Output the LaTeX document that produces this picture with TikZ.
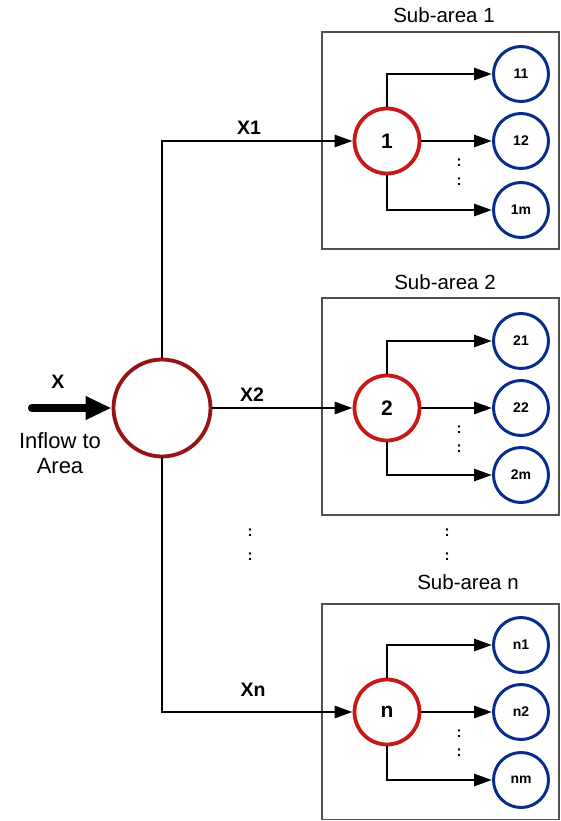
\documentclass[tikz,border=0pt]{standalone}
\usepackage{fontspec}
\setmainfont{Liberation Sans}
\usetikzlibrary{arrows.meta}
\definecolor{boxgray}{RGB}{80,80,80}
\definecolor{bigred}{RGB}{150,20,20}
\definecolor{subred}{RGB}{200,25,25}
\definecolor{leafblue}{RGB}{10,45,140}
\newcommand{\fs}[1]{\fontsize{#1}{#1}\selectfont}
\begin{document}
\begin{tikzpicture}[x=1pt,y=-1pt,
  subbox/.style={draw=boxgray, line width=1.2pt},
  redc/.style={circle, draw=subred, line width=3.8pt, minimum size=65pt, inner sep=0pt, font=\bfseries\fs{21}},
  bigc/.style={circle, draw=bigred, line width=3.8pt, minimum size=97pt, inner sep=0pt},
  bluec/.style={circle, draw=leafblue, line width=3pt, minimum size=55pt, inner sep=0pt, font=\bfseries\fs{14}},
  conn/.style={line width=2.8pt, -{Triangle[length=18pt,width=12pt]}},
  flowlbl/.style={font=\bfseries\fs{19.5}},
  sublbl/.style={font=\fs{20.5}},
  vdots/.style={font=\bfseries\fs{15}, inner sep=0pt}
]
\useasboundingbox (0,0) rectangle (561,821);

% boxes
\draw[subbox] (322,32) rectangle (559,249);
\draw[subbox] (322,298) rectangle (559,515);
\draw[subbox] (322,604) rectangle (559,819.5);

\node[sublbl] (s1) at (444,15) {Sub-area 1};
\node[sublbl] (s2) at (445,282) {Sub-area 2};
\node[sublbl] (sn) at (468,582) {Sub-area n};

% main nodes
\node[bigc] (big) at (162,408) {};
\node[redc] (r1) at (387,141) {1};
\node[redc] (r2) at (387,408) {2};
\node[redc] (rn) at (387,712) {n};

\node[bluec] (b11) at (521,74) {11};
\node[bluec] (b12) at (521,141) {12};
\node[bluec] (b1m) at (521,210) {1m};
\node[bluec] (b21) at (521,341) {21};
\node[bluec] (b22) at (521,408) {22};
\node[bluec] (b2m) at (521,475) {2m};
\node[bluec] (bn1) at (521,645) {n1};
\node[bluec] (bn2) at (521,712) {n2};
\node[bluec] (bnm) at (521,780) {nm};

% input
\coordinate (inS) at (32,408);
\draw[line width=8pt, line cap=round, -{Triangle[length=26pt,width=22pt]}] (inS) -- (big.west);
\node[flowlbl] (xin) at (58,382) {X};
\node[font=\fs{22}, align=center, inner sep=0pt] (inflow) at (60,453) {Inflow to\\[3pt]Area};

% distribution
\draw[conn] (big.north) |- (r1.west);
\draw[conn] (big.east) -- (r2.west);
\draw[conn] (big.south) |- (rn.west);
\node[flowlbl] (x1) at (249,128) {X1};
\node[flowlbl] (x2) at (252,395) {X2};
\node[flowlbl] (xn) at (253,690) {Xn};

% sub-area branches
\draw[conn] (r1.north) |- (b11.west);
\draw[conn] (r1.east) -- (b12.west);
\draw[conn] (r1.south) |- (b1m.west);
\draw[conn] (r2.north) |- (b21.west);
\draw[conn] (r2.east) -- (b22.west);
\draw[conn] (r2.south) |- (b2m.west);
\draw[conn] (rn.north) |- (bn1.west);
\draw[conn] (rn.east) -- (bn2.west);
\draw[conn] (rn.south) |- (bnm.west);

% dots
\node[vdots] (d1a) at (459,163) {:};
\node[vdots] (d1b) at (459,182) {:};
\node[vdots] (d2a) at (459,430) {:};
\node[vdots] (d2b) at (459,449) {:};
\node[vdots] (dna) at (459,734) {:};
\node[vdots] (dnb) at (459,753) {:};
\node[vdots] (dla) at (250,533) {:};
\node[vdots] (dlb) at (250,557) {:};
\node[vdots] (dma) at (447,533) {:};
\node[vdots] (dmb) at (447,557) {:};
\end{tikzpicture}
\end{document}
